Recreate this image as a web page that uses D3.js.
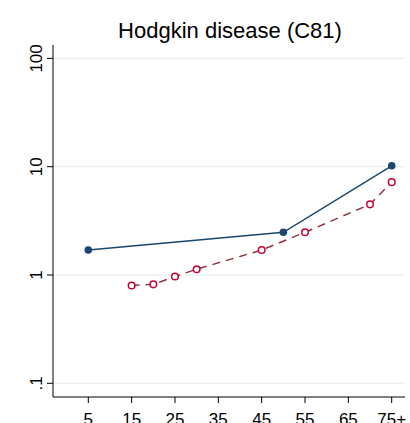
<!DOCTYPE html>
<meta charset="utf-8">
<style>
    body { margin: 0; background: #fff; }
    text { font-family: "Liberation Sans", Arial, sans-serif; }
</style>
<body>
<script src="https://cdn.jsdelivr.net/npm/d3@7"></script>
<script>
    var width = 410, height = 423;

    var xTicks = [5, 15, 25, 35, 45, 55, 65, 75],
        xTickLabels = ["5", "15", "25", "35", "45", "55", "65", "75+"],
        yTicks = [0.1, 1, 10, 100],
        yTickLabels = [".1", "1", "10", "100"];

    var ageA = [5, 50, 75],
        rateA = [1.7, 2.48, 10.2];
    var ageB = [15, 20, 25, 30, 45, 55, 70, 75],
        rateB = [0.8, 0.82, 0.97, 1.13, 1.7, 2.48, 4.49, 7.2];

    var x = d3.scaleLinear().domain([5, 75]).range([88.3, 391.7]);
    var y = d3.scaleLog().domain([0.1, 10]).range([383.3, 166.7]);

    var svg = d3.select("body").append("svg")
            .attr("width", width)
            .attr("height", height);

    svg.append("text")
            .attr("x", 230).attr("y", 38)
            .attr("text-anchor", "middle")
            .style("font-size", "22px")
            .text("Hodgkin disease (C81)");

    // grid
    svg.selectAll(".grid").data(yTicks).enter().append("line")
            .attr("x1", 53).attr("x2", 405)
            .attr("y1", function(d) { return y(d); })
            .attr("y2", function(d) { return y(d); })
            .attr("stroke", "#eaeaea").attr("stroke-width", 1);

    // y axis
    svg.append("line").attr("x1", 53).attr("x2", 53).attr("y1", 45).attr("y2", 397)
            .attr("stroke", "#000");
    yTicks.forEach(function(d, i) {
        svg.append("line").attr("x1", 47).attr("x2", 53).attr("y1", y(d)).attr("y2", y(d)).attr("stroke", "#000");
        svg.append("text")
                .attr("transform", "translate(42," + y(d) + ")rotate(-90)")
                .attr("text-anchor", "middle")
                .style("font-size", "17px")
                .text(yTickLabels[i]);
    });

    // x axis
    svg.append("line").attr("x1", 53).attr("x2", 405).attr("y1", 397).attr("y2", 397)
            .attr("stroke", "#000");
    xTicks.forEach(function(d, i) {
        svg.append("line").attr("x1", x(d)).attr("x2", x(d)).attr("y1", 397).attr("y2", 403).attr("stroke", "#000");
        svg.append("text")
                .attr("x", x(d)).attr("y", 425)
                .attr("text-anchor", "middle")
                .style("font-size", "17px")
                .text(xTickLabels[i]);
    });

    var line = d3.line()
            .x(function(d) { return x(d[0]); })
            .y(function(d) { return y(d[1]); });

    var dataB = d3.zip(ageB, rateB),
        dataA = d3.zip(ageA, rateA);

    svg.append("path").attr("d", line(dataB))
            .attr("fill", "none").attr("stroke", "#90353b")
            .attr("stroke-width", 1.5).attr("stroke-dasharray", "8,6");
    svg.selectAll(".pb").data(dataB).enter().append("circle")
            .attr("cx", function(d) { return x(d[0]); })
            .attr("cy", function(d) { return y(d[1]); })
            .attr("r", 3.3)
            .attr("fill", "#fff").attr("stroke", "#c10534").attr("stroke-width", 1.5);

    svg.append("path").attr("d", line(dataA))
            .attr("fill", "none").attr("stroke", "#1a476f").attr("stroke-width", 1.5);
    svg.selectAll(".pa").data(dataA).enter().append("circle")
            .attr("cx", function(d) { return x(d[0]); })
            .attr("cy", function(d) { return y(d[1]); })
            .attr("r", 3.8)
            .attr("fill", "#1a476f");
</script>
</body>
</html>
